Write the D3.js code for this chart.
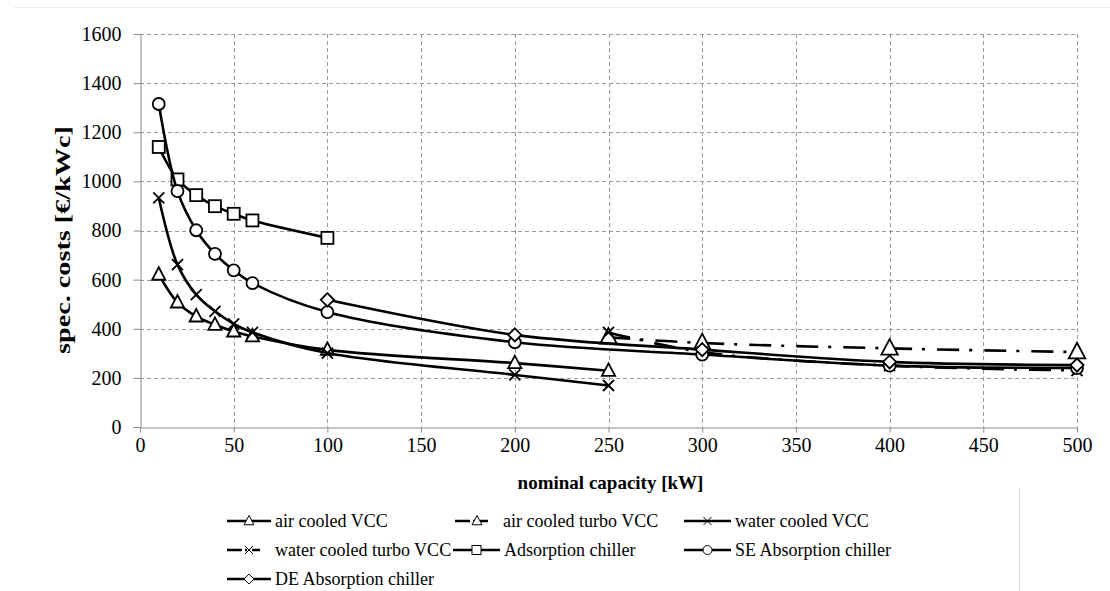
<!DOCTYPE html>
<html><head><meta charset="utf-8">
<script src="https://cdn.jsdelivr.net/npm/d3@7"></script>
<style>
html,body{margin:0;padding:0;background:#fff;}
svg{display:block;font-family:"Liberation Serif","Times New Roman",serif;}
svg text{font-family:"Liberation Serif","Times New Roman",serif;}
</style></head>
<body><svg id="c" width="1110" height="591"></svg>
<script>
// ---- data ----
const xTicks = [0,50,100,150,200,250,300,350,400,450,500];
const yTicks = [0,200,400,600,800,1000,1200,1400,1600];
const seriesNames = ["air cooled VCC","air cooled turbo VCC","water cooled VCC","water cooled turbo VCC","Adsorption chiller","SE Absorption chiller","DE Absorption chiller"];
const airCooledX = [10,20,30,40,50,60,100,200,250];
const airCooledY = [620,507,450,416,389,369,314,260,229];
const airTurboX = [250,300,400,500];
const airTurboY = [365,342,320,305];
const waterCooledX = [10,20,30,40,50,60,100,200,250];
const waterCooledY = [933,661,539,471,420,385,301,212,169];
const waterTurboX = [250,300,400,500];
const waterTurboY = [385,305,250,230];
const adsorptionX = [10,20,30,40,50,60,100];
const adsorptionY = [1140,1008,944,899,868,841,770];
const seAbsX = [10,20,30,40,50,60,100,200,300,400,500];
const seAbsY = [1315,960,801,705,638,586,468,345,295,250,240];
const deAbsX = [100,200,300,400,500];
const deAbsY = [518,375,315,265,252];

const seriesX = [airCooledX,airTurboX,waterCooledX,waterTurboX,adsorptionX,seAbsX,deAbsX];
const seriesY = [airCooledY,airTurboY,waterCooledY,waterTurboY,adsorptionY,seAbsY,deAbsY];
const markers = ["tri","tri","x","x","sq","circ","dia"];
const dashes = [null,"22,10,3,12",null,"22,10,3,12",null,null,null];

// ---- layout ----
const svg = d3.select("#c");
const L = 140, R = 1077, T = 34, B = 427;
const x = d3.scaleLinear().domain([0,500]).range([L,R]);
const y = d3.scaleLinear().domain([0,1600]).range([B,T]);

// faint frame lines
svg.append("line").attr("x1",14).attr("x2",1110).attr("y1",7.5).attr("y2",7.5).attr("stroke","#ececec");
svg.append("line").attr("x1",1019.5).attr("x2",1019.5).attr("y1",488).attr("y2",591).attr("stroke","#d9d9d9");

// grid
const gridColor = "#999";
const grid = svg.append("g");
grid.selectAll("line.h").data(yTicks.filter(d=>d>0)).enter().append("line")
  .attr("x1",L).attr("x2",R).attr("y1",d=>Math.round(y(d))+0.5).attr("y2",d=>Math.round(y(d))+0.5)
  .attr("stroke",gridColor).attr("stroke-dasharray","4,3");
grid.selectAll("line.v").data(xTicks.filter(d=>d>0)).enter().append("line")
  .attr("y1",T).attr("y2",B).attr("x1",d=>Math.round(x(d))+0.5).attr("x2",d=>Math.round(x(d))+0.5)
  .attr("stroke",gridColor).attr("stroke-dasharray","4,3");

// axes
const fmt = d3.format("d");
const xAxis = svg.append("g").attr("transform",`translate(0,${B+0.5})`)
  .call(d3.axisBottom(x).tickValues(xTicks).tickFormat(fmt).tickSize(5).tickPadding(5).tickSizeOuter(0));
const yAxis = svg.append("g").attr("transform",`translate(${L+0.5},0)`)
  .call(d3.axisLeft(y).tickValues(yTicks).tickFormat(fmt).tickSize(7).tickPadding(12).tickSizeOuter(0));
[xAxis,yAxis].forEach(a=>{
  a.attr("font-family","Liberation Serif").attr("font-size",20);
  a.select(".domain").attr("stroke","#8c8c8c");
  a.selectAll(".tick line").attr("stroke","#8c8c8c");
  a.selectAll("text").attr("fill","#000");
});

// axis titles
svg.append("text").attr("x",(L+R)/2 + 2).attr("y",489).attr("text-anchor","middle")
  .attr("font-weight","bold").attr("font-size",19).text("nominal capacity [kW]");
svg.append("text").attr("transform",`translate(70,240) rotate(-90)`).attr("text-anchor","middle")
  .attr("font-weight","bold").attr("font-size",20)
  .attr("textLength",228).attr("lengthAdjust","spacingAndGlyphs")
  .text("spec. costs [\u20AC/kWc]");

// marker drawing
function drawMarker(g, type, cx, cy, s, sw){
  const st = {stroke:"#000","stroke-width":sw,fill:"#fff"};
  let el;
  if(type==="tri"){
    const h=s*1.0, w=s*1.1;
    el = g.append("path").attr("d",`M${cx},${cy-h*0.62}L${cx+w/2},${cy+h*0.42}L${cx-w/2},${cy+h*0.42}Z`);
  } else if(type==="sq"){
    el = g.append("rect").attr("x",cx-s/2).attr("y",cy-s/2).attr("width",s).attr("height",s);
  } else if(type==="circ"){
    el = g.append("circle").attr("cx",cx).attr("cy",cy).attr("r",s/2);
  } else if(type==="dia"){
    const r=s*0.55;
    el = g.append("path").attr("d",`M${cx},${cy-r}L${cx+r},${cy}L${cx},${cy+r}L${cx-r},${cy}Z`);
  } else if(type==="x"){
    const r=s/2;
    el = g.append("path").attr("d",`M${cx-r},${cy-r}L${cx+r},${cy+r}M${cx-r},${cy+r}L${cx+r},${cy-r}`);
    st.fill="none";
  }
  Object.entries(st).forEach(([k,v])=>el.attr(k,v));
}

// series
const line = d3.line().x(d=>x(d[0])).y(d=>y(d[1])).curve(d3.curveCatmullRom.alpha(0.5));
const plot = svg.append("g");
seriesNames.forEach((name,i)=>{
  const pts = seriesX[i].map((v,j)=>[v,seriesY[i][j]]);
  const g = plot.append("g");
  const p = g.append("path").attr("d",line(pts)).attr("fill","none").attr("stroke","#000").attr("stroke-width",2.6);
  if(dashes[i]) p.attr("stroke-dasharray",dashes[i]);
  const big = (i===1) ? 15 : 12;
  pts.forEach(d=>drawMarker(g,markers[i],x(d[0]),y(d[1]),markers[i]==="x"?11:big,1.8));
});

// legend
const legendPos = [
  {x:227,y:521,len:44},{x:455,y:521,len:44},{x:684,y:521,len:47},
  {x:227,y:550,len:44},{x:453,y:550,len:47},{x:684,y:550,len:47},
  {x:227,y:579,len:44}
];
const leg = svg.append("g");
seriesNames.forEach((name,i)=>{
  const p = legendPos[i];
  const g = leg.append("g");
  const ln = g.append("line").attr("x1",p.x).attr("x2",p.x+p.len).attr("y1",p.y).attr("y2",p.y)
    .attr("stroke","#000").attr("stroke-width",2.6);
  if(dashes[i]) ln.attr("stroke-dasharray","15,3,2,5,8,20");
  drawMarker(g,markers[i],p.x+p.len/2,p.y,markers[i]==="x"?8:9,1);
  g.append("text").attr("x",p.x+p.len+4).attr("y",p.y).attr("dy","0.35em")
    .attr("font-size",18).text(name);
});
</script>
</body></html>
